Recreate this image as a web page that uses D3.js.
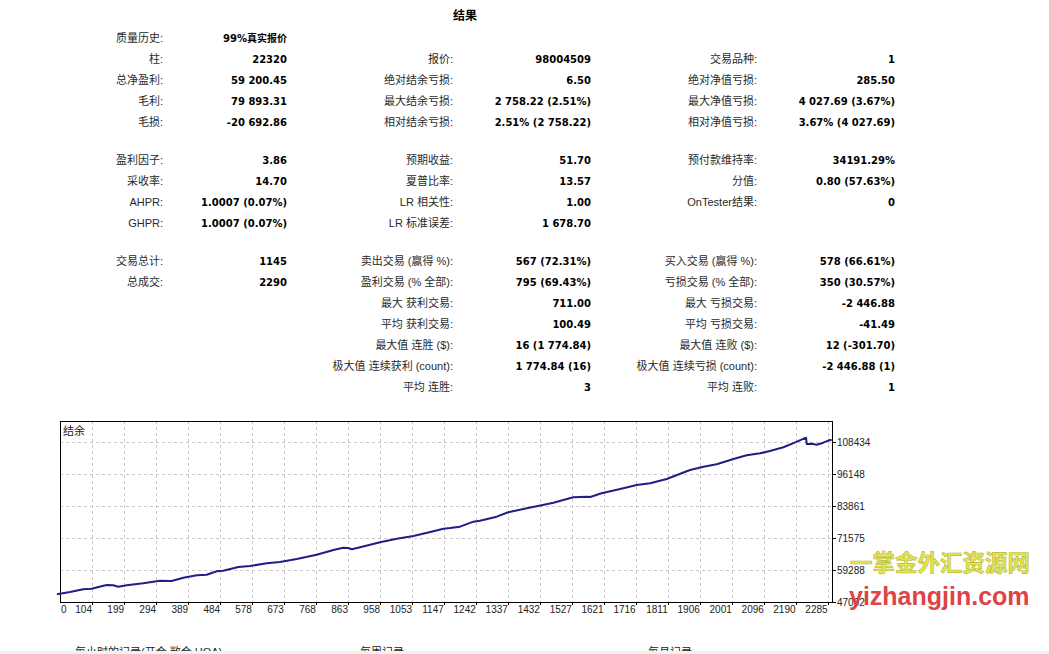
<!DOCTYPE html>
<html>
<head>
<meta charset="utf-8">
<script src="https://cdn.jsdelivr.net/npm/d3@7"></script>
<style>
  body { margin: 0; background: #fff; }
  svg { display: block; }
</style>
</head>
<body>
<div id="report"></div>
<script>
// Report table, one array per column
const col1Labels = ["质量历史:", "柱:", "总净盈利:", "毛利:", "毛损:", "盈利因子:", "采收率:", "AHPR:", "GHPR:", "交易总计:", "总成交:", "", "", "", "", ""];
const col1Values = ["99%真实报价", "22320", "59 200.45", "79 893.31", "-20 692.86", "3.86", "14.70", "1.0007 (0.07%)", "1.0007 (0.07%)", "1145", "2290", "", "", "", "", ""];
const col2Labels = ["", "报价:", "绝对结余亏损:", "最大结余亏损:", "相对结余亏损:", "预期收益:", "夏普比率:", "LR 相关性:", "LR 标准误差:", "卖出交易 (赢得 %):", "盈利交易 (% 全部):", "最大 获利交易:", "平均 获利交易:", "最大值 连胜 ($):", "极大值 连续获利 (count):", "平均 连胜:"];
const col2Values = ["", "98004509", "6.50", "2 758.22 (2.51%)", "2.51% (2 758.22)", "51.70", "13.57", "1.00", "1 678.70", "567 (72.31%)", "795 (69.43%)", "711.00", "100.49", "16 (1 774.84)", "1 774.84 (16)", "3"];
const col3Labels = ["", "交易品种:", "绝对净值亏损:", "最大净值亏损:", "相对净值亏损:", "预付款维持率:", "分值:", "OnTester结果:", "", "买入交易 (赢得 %):", "亏损交易 (% 全部):", "最大 亏损交易:", "平均 亏损交易:", "最大值 连败 ($):", "极大值 连续亏损 (count):", "平均 连败:"];
const col3Values = ["", "1", "285.50", "4 027.69 (3.67%)", "3.67% (4 027.69)", "34191.29%", "0.80 (57.63%)", "0", "", "578 (66.61%)", "350 (30.57%)", "-2 446.88", "-41.49", "12 (-301.70)", "-2 446.88 (1)", "1"];
const rowGroups = [0, 0, 0, 0, 0, 1, 1, 1, 1, 2, 2, 2, 2, 2, 2, 2];

// Balance curve (trade number, balance)
const tradeNo = [0, 39, 78, 103, 138, 148, 167, 182, 207, 256, 306, 340, 375, 415, 444, 474, 493, 538, 573, 622, 661, 711, 770, 820, 849, 864, 874, 899, 958, 1008, 1057, 1107, 1146, 1166, 1195, 1235, 1254, 1304, 1338, 1393, 1437, 1472, 1531, 1571, 1581, 1615, 1670, 1719, 1759, 1808, 1877, 1917, 1956, 2016, 2045, 2085, 2114, 2154, 2194, 2221, 2223, 2238, 2253, 2272, 2292, 2297];
const balance = [50000, 50840, 51880, 52110, 53260, 53530, 53420, 52880, 53420, 54180, 55180, 55070, 56330, 57250, 57490, 58790, 59020, 60440, 60830, 61860, 62360, 63510, 65160, 66970, 67850, 67740, 67240, 68010, 69930, 71310, 72350, 73880, 75150, 75420, 75920, 77840, 78220, 79760, 81450, 82980, 84130, 85130, 87210, 87440, 87320, 88740, 90390, 91930, 92580, 94230, 97690, 98960, 99880, 102300, 103340, 104100, 104990, 106410, 108560, 110090, 107670, 107790, 107400, 108170, 109210, 109200];

const xTickLabels = [0, 104, 199, 294, 389, 484, 578, 673, 768, 863, 958, 1053, 1147, 1242, 1337, 1432, 1527, 1621, 1716, 1811, 1906, 2001, 2096, 2190, 2285];
const yTickLabels = [47002, 59288, 71575, 83861, 96148, 108434];

const width = 1049, height = 654;
const labelFont = "'Liberation Sans', 'Noto Sans CJK SC', sans-serif";
const valueFont = "'DejaVu Sans', 'Noto Sans CJK SC', sans-serif";

const svg = d3.select("#report")
    .append("svg")
    .attr("width", width)
    .attr("height", height);

svg.append("rect").attr("width", width).attr("height", height).attr("fill", "#fff");

// Title
svg.append("text")
    .attr("x", 465)
    .attr("y", 16)
    .attr("dy", "0.35em")
    .attr("text-anchor", "middle")
    .style("font-family", valueFont)
    .style("font-weight", "bold")
    .style("font-size", "12px")
    .text("结果");

// Row positions
const rowY = i => 38 + i * 21.05 + rowGroups[i] * 16.8;

const columns = [
    { labels: col1Labels, values: col1Values, labelX: 163, valueX: 287 },
    { labels: col2Labels, values: col2Values, labelX: 453, valueX: 591 },
    { labels: col3Labels, values: col3Values, labelX: 757, valueX: 895 }
];

columns.forEach(col => {
    const g = svg.append("g");
    g.selectAll("text.lbl")
        .data(col.labels)
        .enter()
        .append("text")
        .attr("class", "lbl")
        .attr("x", col.labelX)
        .attr("y", (d, i) => rowY(i))
        .attr("dy", "0.35em")
        .attr("text-anchor", "end")
        .style("font-family", labelFont)
        .style("font-size", "11px")
        .style("fill", "#2a2a2a")
        .text(d => d);

    g.selectAll("text.val")
        .data(col.values)
        .enter()
        .append("text")
        .attr("class", "val")
        .attr("x", col.valueX)
        .attr("y", (d, i) => rowY(i))
        .attr("dy", "0.35em")
        .attr("text-anchor", "end")
        .style("font-family", valueFont)
        .style("font-weight", "bold")
        .style("font-size", "10px")
        .style("fill", "#000")
        .text(d => d);
});

// Balance graph
const plot = { left: 60, right: 832, top: 421, bottom: 602 };

const x = d3.scaleLinear()
    .domain([9.2, 2298])
    .range([plot.left, plot.right]);

const y = d3.scaleLinear()
    .domain([47002, 116500])
    .range([plot.bottom, plot.top]);

const chart = svg.append("g");

// grid
chart.selectAll("line.vgrid")
    .data(xTickLabels.slice(1))
    .enter()
    .append("line")
    .attr("class", "vgrid")
    .attr("x1", d => Math.round(x(d)) + 0.5)
    .attr("x2", d => Math.round(x(d)) + 0.5)
    .attr("y1", plot.top)
    .attr("y2", plot.bottom)
    .attr("stroke", "#c8c8c8")
    .attr("stroke-dasharray", "3,3");

chart.selectAll("line.hgrid")
    .data(yTickLabels.slice(1))
    .enter()
    .append("line")
    .attr("class", "hgrid")
    .attr("x1", plot.left)
    .attr("x2", plot.right)
    .attr("y1", d => Math.round(y(d)) + 0.5)
    .attr("y2", d => Math.round(y(d)) + 0.5)
    .attr("stroke", "#c8c8c8")
    .attr("stroke-dasharray", "3,3");

// frame
chart.append("rect")
    .attr("x", plot.left + 0.5)
    .attr("y", plot.top + 0.5)
    .attr("width", plot.right - plot.left)
    .attr("height", plot.bottom - plot.top)
    .attr("fill", "none")
    .attr("stroke", "#000");

// y axis on the right
chart.selectAll("line.ytick")
    .data(yTickLabels)
    .enter()
    .append("line")
    .attr("class", "ytick")
    .attr("x1", plot.right)
    .attr("x2", plot.right + 4)
    .attr("y1", d => Math.round(y(d)) + 0.5)
    .attr("y2", d => Math.round(y(d)) + 0.5)
    .attr("stroke", "#000");

chart.selectAll("text.ylab")
    .data(yTickLabels)
    .enter()
    .append("text")
    .attr("class", "ylab")
    .attr("x", plot.right + 5)
    .attr("y", d => y(d))
    .attr("dy", "0.35em")
    .style("font-family", labelFont)
    .style("font-size", "10px")
    .style("fill", "#222")
    .text(d => d);

// x axis labels
chart.selectAll("line.xtick")
    .data(xTickLabels.slice(1))
    .enter()
    .append("line")
    .attr("class", "xtick")
    .attr("x1", d => Math.round(x(d)) + 0.5)
    .attr("x2", d => Math.round(x(d)) + 0.5)
    .attr("y1", plot.bottom)
    .attr("y2", plot.bottom + 3)
    .attr("stroke", "#000");

chart.selectAll("text.xlab")
    .data(xTickLabels)
    .enter()
    .append("text")
    .attr("class", "xlab")
    .attr("x", d => x(d) < plot.left ? plot.left + 1 : x(d))
    .attr("y", 609)
    .attr("dy", "0.35em")
    .attr("text-anchor", d => x(d) < plot.left ? "start" : "end")
    .style("font-family", labelFont)
    .style("font-size", "10px")
    .style("fill", "#222")
    .text(d => d);

// chart name
chart.append("text")
    .attr("x", plot.left + 3)
    .attr("y", 431)
    .attr("dy", "0.35em")
    .style("font-family", labelFont)
    .style("font-size", "11px")
    .style("fill", "#222")
    .text("结余");

// balance line
const line = d3.line()
    .x((d, i) => x(tradeNo[i]))
    .y(d => y(d));

chart.append("path")
    .datum(balance)
    .attr("d", line)
    .attr("fill", "none")
    .attr("stroke", "#1f1f86")
    .attr("stroke-width", 2)
    .attr("stroke-linejoin", "round");

// watermark
svg.append("text")
    .attr("x", 850)
    .attr("y", 563)
    .attr("dy", "0.35em")
    .style("font-family", "'Noto Sans CJK SC', sans-serif")
    .style("font-weight", "bold")
    .style("font-size", "22.5px")
    .style("fill", "#e4e64e")
    .style("stroke", "#b8b838")
    .style("stroke-width", 0.6)
    .text("一掌金外汇资源网");

svg.append("text")
    .attr("x", 849)
    .attr("y", 605)
    .style("font-family", "'Liberation Sans', sans-serif")
    .style("font-weight", "bold")
    .style("font-size", "25px")
    .style("fill", "#dc4446")
    .text("yizhangjin.com");

// next section headers, cut off by the page edge
const nextSections = ["每小时的记录(开仓,敞仓 HOA)", "每周记录", "每月记录"];
const nextSectionX = [75, 360, 648];
svg.selectAll("text.next")
    .data(nextSections)
    .enter()
    .append("text")
    .attr("class", "next")
    .attr("x", (d, i) => nextSectionX[i])
    .attr("y", 656)
    .style("font-family", labelFont)
    .style("font-size", "11px")
    .style("fill", "#222")
    .text(d => d);

svg.append("rect")
    .attr("x", 0)
    .attr("y", 651)
    .attr("width", width)
    .attr("height", 3)
    .attr("fill", "#f2f2f2");
</script>
</body>
</html>
